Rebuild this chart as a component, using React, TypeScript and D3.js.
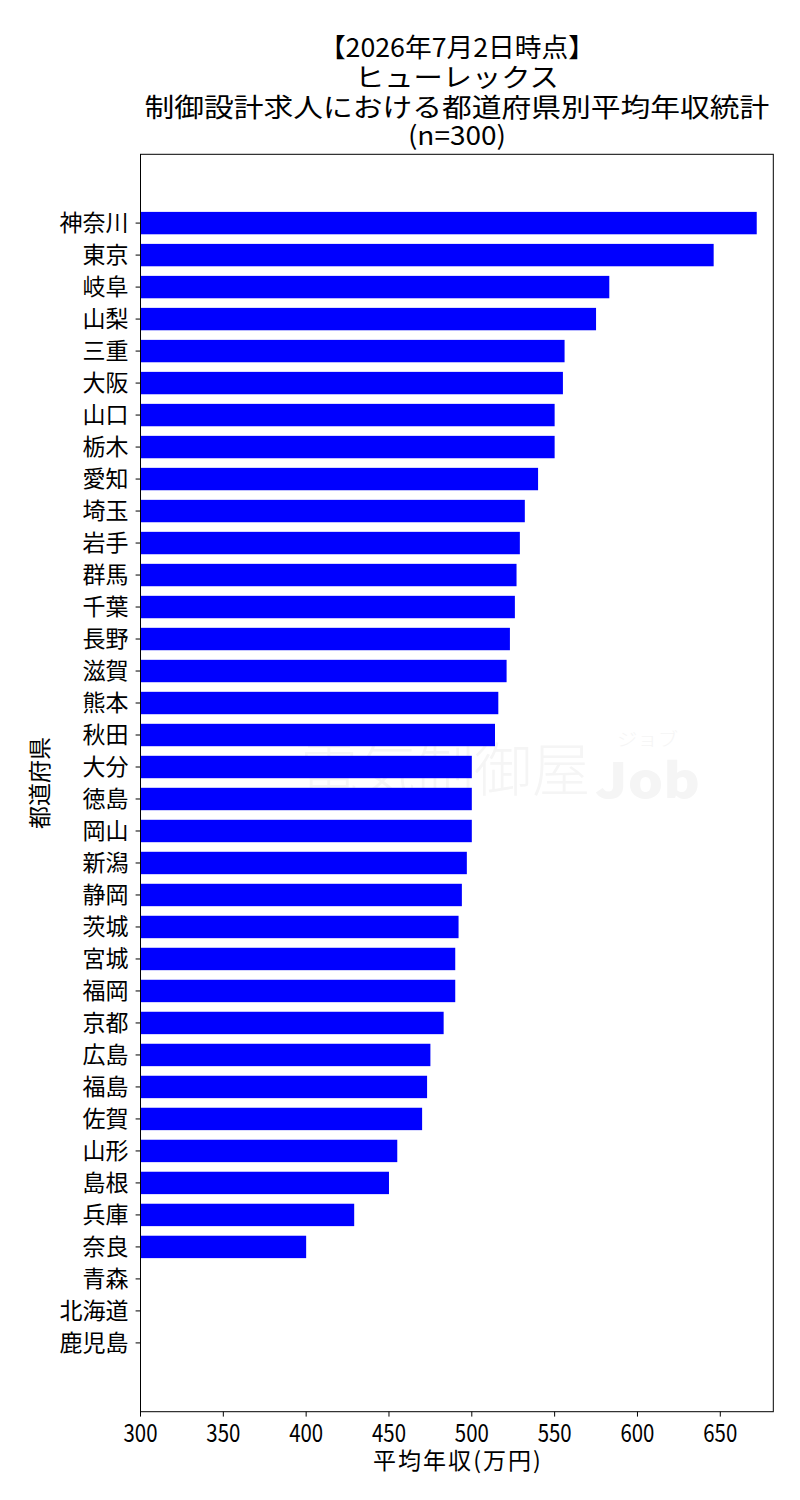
import React, { useEffect } from 'react';
import * as d3 from 'd3';

// 都道府県 (上から順)
const prefectures = [
  '神奈川', '東京', '岐阜', '山梨', '三重', '大阪', '山口', '栃木', '愛知', '埼玉',
  '岩手', '群馬', '千葉', '長野', '滋賀', '熊本', '秋田', '大分', '徳島', '岡山',
  '新潟', '静岡', '茨城', '宮城', '福岡', '京都', '広島', '福島', '佐賀', '山形',
  '島根', '兵庫', '奈良', '青森', '北海道', '鹿児島',
];

// 平均年収 (万円) — 青森・北海道・鹿児島は棒なし
const salaries: (number | null)[] = [
  672, 646, 583, 575, 556, 555, 550, 550, 540, 532,
  529, 527, 526, 523, 521, 516, 514, 500, 500, 500,
  497, 494, 492, 490, 490, 483, 475, 473, 470, 455,
  450, 429, 400, null, null, null,
];

const xTicks = [300, 350, 400, 450, 500, 550, 600, 650];
const xDomain: [number, number] = [300, 682];

const titleLines = [
  '【2026年7月2日時点】',
  'ヒューレックス',
  '制御設計求人における都道府県別平均年収統計',
  '(n=300)',
];
const xLabel = '平均年収(万円)';
const yLabel = '都道府県';

const W = 800;
const H = 1500;
const margin = { top: 154.3, right: 26.7, bottom: 88.3, left: 140.5 };
const CJK = '"Noto Sans CJK JP", "Noto Sans", sans-serif';

export default function App() {
  useEffect(() => {
    document.body.style.margin = '0';
  }, []);

  const left = margin.left;
  const right = W - margin.right;
  const top = margin.top;
  const bottom = H - margin.bottom;

  const x = d3.scaleLinear().domain(xDomain).range([left, right]);
  const y = d3.scaleBand<string>()
    .domain(prefectures)
    .range([top, bottom])
    .paddingInner(0.3)
    .paddingOuter(1.8);

  const tickLen = 4.9;
  // title widths
  const titleWidths = [276, 204, 625, 98];
  const titleBaselines = [57, 87, 117, 145];

  return (
    <svg width={W} height={H} style={{ display: 'block', background: '#fff' }}>
      {/* watermark */}
      <g fill="#f5f5f5">
        <text x={300} y={791} fontFamily={CJK} fontWeight={300} fontSize={58}>電気制御屋</text>
        <text x={595} y={798} fontFamily={CJK} fontWeight={900} fontSize={48} textLength={105} lengthAdjust="spacingAndGlyphs">Job</text>
        <text x={617} y={746} fontFamily={CJK} fontWeight={300} fontSize={18} textLength={61} lengthAdjust="spacingAndGlyphs">ジョブ</text>
      </g>

      {/* bars */}
      <g fill="#0000ff">
        {prefectures.map((p, i) => {
          const v = salaries[i];
          if (v == null) return null;
          return (
            <rect key={p} x={x(xDomain[0])} y={y(p)} width={x(v) - x(xDomain[0])} height={y.bandwidth()} />
          );
        })}
      </g>

      {/* frame */}
      <rect x={left} y={top} width={right - left} height={bottom - top} fill="none" stroke="#000" strokeWidth={1} />

      {/* y axis */}
      <g>
        {prefectures.map((p) => {
          const cy = (y(p) as number) + y.bandwidth() / 2;
          return (
            <g key={p}>
              <line x1={left - tickLen} x2={left} y1={cy} y2={cy} stroke="#000" strokeWidth={1} />
              <text x={left - tickLen - 7} y={cy} dy="0.36em" textAnchor="end" fontFamily={CJK} fontSize={23}>{p}</text>
            </g>
          );
        })}
      </g>

      {/* x axis */}
      <g>
        {xTicks.map((t) => (
          <g key={t}>
            <line x1={x(t)} x2={x(t)} y1={bottom} y2={bottom + tickLen} stroke="#000" strokeWidth={1} />
            <text x={x(t)} y={1441.7} textAnchor="middle" fontFamily={CJK} fontSize={25} textLength={34} lengthAdjust="spacingAndGlyphs">{t}</text>
          </g>
        ))}
      </g>

      {/* axis labels */}
      <text x={(left + right) / 2} y={1469} textAnchor="middle" fontFamily={CJK} fontSize={23} textLength={168} lengthAdjust="spacing">{xLabel}</text>
      <text transform={`translate(48,${(top + bottom) / 2}) rotate(-90)`} textAnchor="middle" fontFamily={CJK} fontSize={23}>{yLabel}</text>

      {/* title */}
      {titleLines.map((line, i) => (
        <text
          key={i}
          x={(left + right) / 2}
          y={titleBaselines[i]}
          textAnchor="middle"
          fontFamily={CJK}
          fontSize={26}
          textLength={titleWidths[i]}
          lengthAdjust="spacingAndGlyphs"
        >
          {line}
        </text>
      ))}
    </svg>
  );
}
